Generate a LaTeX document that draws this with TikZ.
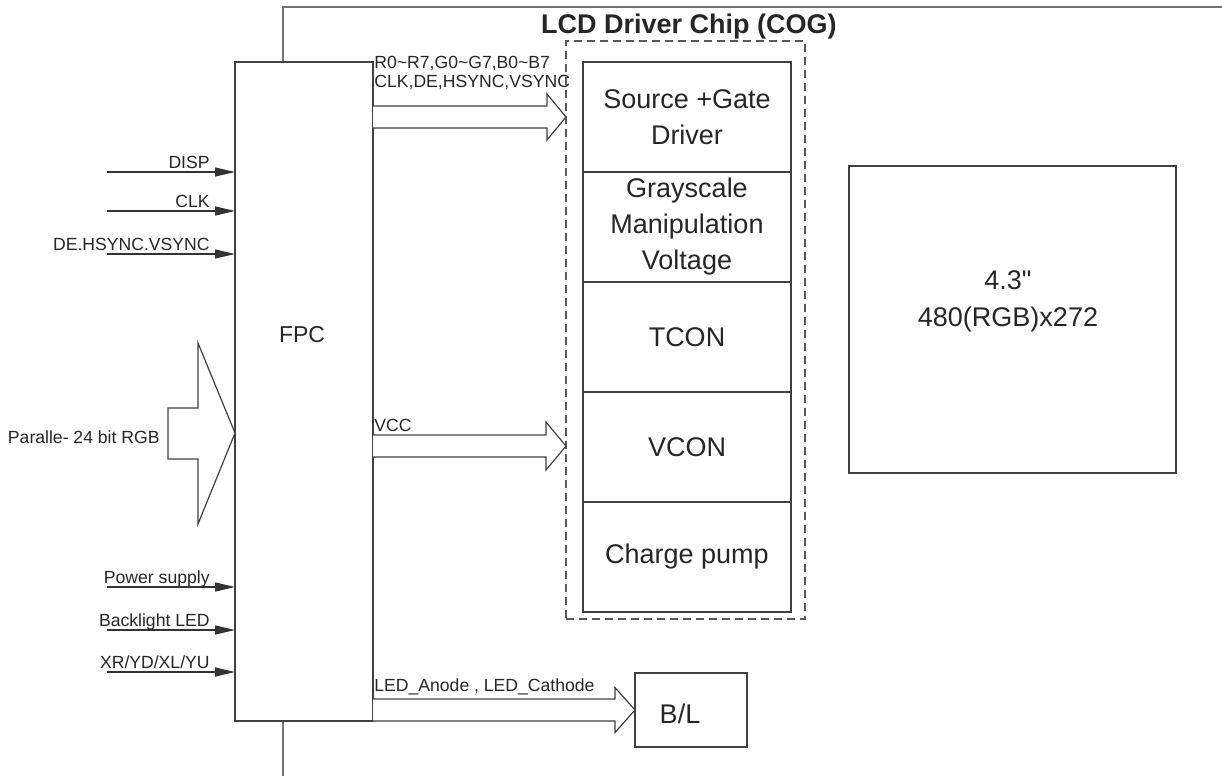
\documentclass[tikz,border=0pt]{standalone}
\usepackage{fontspec}
\setmainfont{Liberation Sans}[Ligatures=TeXOff]
\usetikzlibrary{positioning,calc,arrows.meta}
\tikzset{
  box/.style={draw=black!75, line width=0.6pt, fill=white, inner sep=0pt, outer sep=0pt},
  cell/.style={box, minimum width=104pt, minimum height=55pt, align=center,
    font=\fontsize{13.5}{18}\selectfont, text=black!85},
  bigtxt/.style={inner sep=0pt, align=center, font=\fontsize{13.5}{18.5}\selectfont, text=black!85},
  lbl/.style={inner sep=0pt, font=\fontsize{8.8}{9.5}\selectfont, text=black!85},
  sig/.style={draw=black!80, line width=0.6pt, -{Triangle[length=10pt,width=4.5pt]}},
  fat/.style={draw=black!75, line width=0.6pt, fill=white, line join=miter},
}
\begin{document}
\begin{tikzpicture}[x=0.5pt, y=-0.5pt]
\useasboundingbox (0,0) rectangle (1222,776);
% glass outline
\draw[black!55, line width=0.6pt] (283,776) -- (283,7) -- (1222,7);
\node[inner sep=0pt, font=\bfseries\fontsize{13.5}{16}\selectfont, text=black!85] (title) at (689,27) {LCD Driver Chip (COG)};

% FPC
\node[box, minimum width=69pt, minimum height=329.5pt] (fpc) at (304,391.5) {};
\node[bigtxt, font=\fontsize{11.5}{14}\selectfont] (fpctxt) at (302,335) {FPC};

% driver chip
\node[box, fill=none, dash pattern=on 4pt off 2.5pt, draw=black!65,
  minimum width=119.5pt, minimum height=289pt] (chip) at (685.5,330) {};
\node[cell] (src) at (687,117) {Source +Gate\\Driver};
\node[cell, below=0pt of src] (gray) {Grayscale\\Manipulation\\Voltage};
\node[cell, below=0pt of gray] (tcon) {TCON};
\node[cell, below=0pt of tcon] (vcon) {VCON};
\node[cell, below=0pt of vcon] (pump) {Charge pump};

% panel and backlight
\node[box, minimum width=163.5pt, minimum height=153.5pt] (panel) at (1012.5,319.5) {};
\node[bigtxt] (paneltxt) at (1008,301) {4.3"\\480(RGB)x272};
\node[box, minimum width=56pt, minimum height=37pt] (bl) at (691,710) {};
\node[bigtxt] (bltxt) at (680,714) {B/L};

% input signals
\foreach \y/\nm/\txt in {172/disp/DISP, 211/clk/CLK, 254/sync/DE.HSYNC.VSYNC,
    587/pwr/Power supply, 630/led/Backlight LED, 672/tp/{XR/YD/XL/YU}} {
  \coordinate (\nm) at (107,\y);
  \draw[sig] (\nm) -- (\nm -| fpc.west);
  \node[lbl, anchor=base east] (\nm-lbl) at (210,\y-4) {\txt};
}

% 24 bit bus
\coordinate (rgbin) at (fpc.west |- 0,433);
\draw[fat] (rgbin) -- ++(-37,-90) -- ++(0,65) -- ++(-30,0) -- ++(0,51)
  -- ++(30,0) -- ++(0,65) -- cycle;
\node[lbl, anchor=east] (rgbin-lbl) at (160,437) {Paralle- 24 bit RGB};

% outputs of FPC
\coordinate (rgbtip) at (566,117);
\coordinate (vcctip) at (566,446);
\foreach \tip/\hl/\hw in {rgbtip/19/23, vcctip/20/24, bl.west/20/22.5} {
  \draw[fat] ($(fpc.east |- \tip)+(0,-11)$) -- ($(\tip)+(-\hl,-11)$)
    -- ($(\tip)+(-\hl,-\hw)$) -- (\tip) -- ($(\tip)+(-\hl,\hw)$)
    -- ($(\tip)+(-\hl,11)$) -- ($(fpc.east |- \tip)+(0,11)$);
}
\node[lbl, anchor=north west, align=left] (rgbout-lbl) at (374,56)
  {R0\textasciitilde R7,G0\textasciitilde G7,B0\textasciitilde B7\\CLK,DE,HSYNC,VSYNC};
\node[lbl, anchor=base west] (vcc-lbl) at (374,431) {VCC};
\node[lbl, anchor=base west] (bl-lbl) at (374,691) {LED\_Anode , LED\_Cathode};
\end{tikzpicture}
\end{document}
